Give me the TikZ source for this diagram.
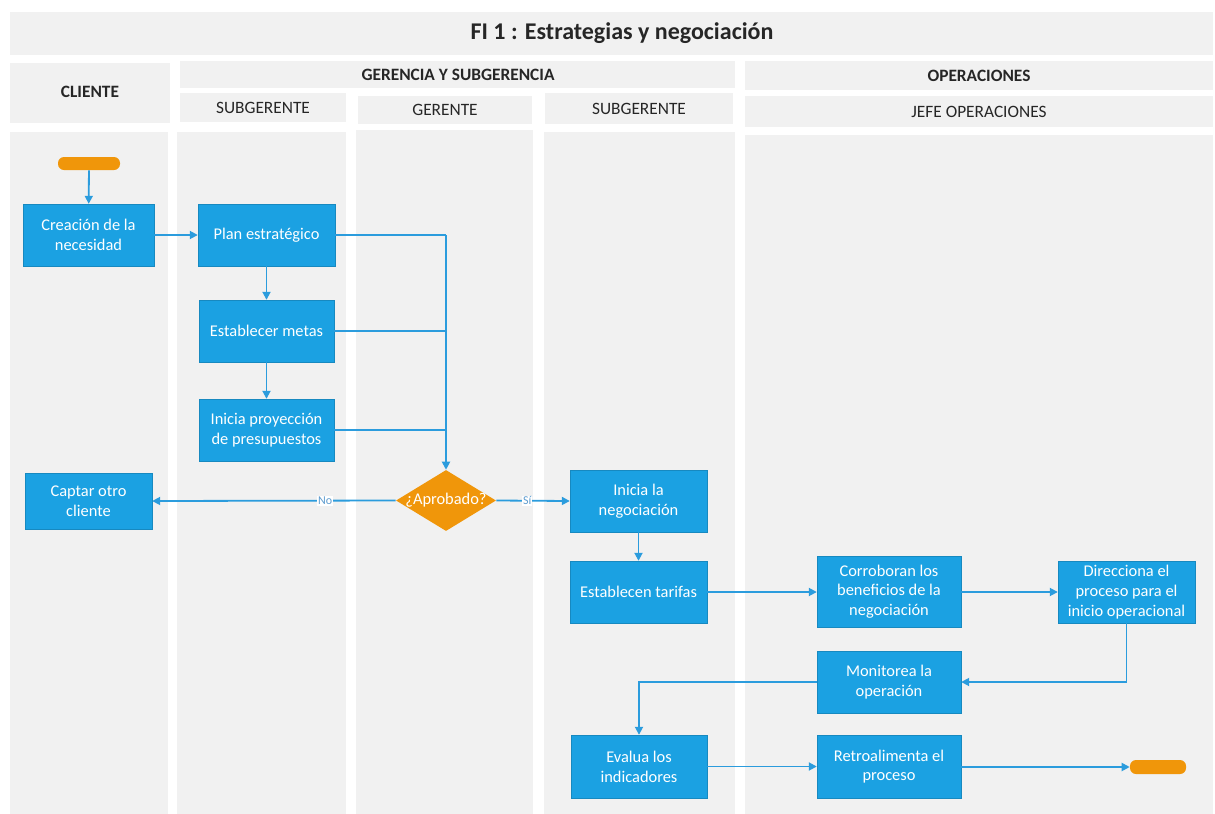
\documentclass[tikz,border=0pt]{standalone}
\usepackage{fontspec}
\setmainfont{Carlito}
\usetikzlibrary{arrows.meta,shapes.geometric}

\definecolor{lanegray}{HTML}{F1F1F1}
\definecolor{procblue}{HTML}{1BA1E2}
\definecolor{flowblue}{HTML}{2B9CDD}
\definecolor{termorange}{HTML}{F0960A}
\definecolor{lblblue}{HTML}{5E9CCF}

\tikzset{
  lane/.style={fill=lanegray, draw=none},
  headtxt/.style={font=\fontsize{13}{15}\selectfont, text=black!85, inner sep=0pt},
  headbold/.style={headtxt, font=\fontsize{13}{15}\selectfont\bfseries},
  proc/.style={rectangle, fill=procblue, draw=procblue!85!black, line width=0.3pt,
    text=white, align=center, inner sep=0pt,
    font=\fontsize{12.3}{14.8}\selectfont},
  term/.style={rectangle, rounded corners=4.5pt, fill=termorange, draw=none, inner sep=0pt},
  decision/.style={diamond, fill=termorange, draw=none, inner sep=0pt, aspect=1.65},
  flow/.style={draw=flowblue, line width=1.35pt, -{Triangle[length=6pt,width=6pt]}},
  link/.style={draw=flowblue, line width=1.35pt},
  edgelbl/.style={fill=white, text=lblblue, inner sep=0.8pt,
    font=\fontsize{9}{10}\selectfont}
}

\begin{document}
\begin{tikzpicture}[x=0.75pt, y=-0.75pt]
  % canvas
  \fill[white] (0,0) rectangle (1215,814);
  \useasboundingbox (0,0) rectangle (1215,814);

  % title band
  \fill[lane] (10,12) rectangle (1213,55);
  \node[headtxt, font=\fontsize{18}{20}\selectfont\bfseries] (title) at (622,33) {FI 1 : Estrategias y negociación};

  % header cells
  \fill[lane] (10,63) rectangle (170,123);
  \node[headbold] (hcli) at (90,92) {CLIENTE};
  \fill[lane] (180,61) rectangle (735,88);
  \node[headbold] (hger) at (458,75) {GERENCIA Y SUBGERENCIA};
  \fill[lane] (180,93) rectangle (346,122);
  \node[headtxt] (hsub1) at (263,108) {SUBGERENTE};
  \fill[lane] (358,96) rectangle (532,124);
  \node[headtxt] (hgte) at (445,110) {GERENTE};
  \fill[lane] (545,93) rectangle (733,124);
  \node[headtxt] (hsub2) at (639,109) {SUBGERENTE};
  \fill[lane] (745,61) rectangle (1213,90);
  \node[headbold] (hops) at (979,76) {OPERACIONES};
  \fill[lane] (745,96) rectangle (1213,127);
  \node[headtxt] (hjefe) at (979,112) {JEFE OPERACIONES};

  % swimlane bodies
  \fill[lane] (10,132) rectangle (168,814);
  \fill[lane] (177,132) rectangle (346,814);
  \fill[lane] (356,130) rectangle (533,814);
  \fill[lane] (544,132) rectangle (735,814);
  \fill[lane] (745,135) rectangle (1213,814);

  % terminators
  \node[term, minimum width=46.5pt, minimum height=9.75pt] (start) at (89,163.5) {};
  \node[term, minimum width=42pt, minimum height=10.5pt] (stop) at (1158,767) {};

  % process steps
  \node[proc, minimum width=98.25pt, minimum height=46.5pt] (crea) at (88.5,235) {Creación de la\\necesidad};
  \node[proc, minimum width=102.75pt, minimum height=46.5pt] (plan) at (266.5,235) {Plan estratégico};
  \node[proc, minimum width=101.25pt, minimum height=46.5pt] (metas) at (266.5,331) {Establecer metas};
  \node[proc, minimum width=101.25pt, minimum height=46.5pt] (proy) at (266.5,430) {Inicia proyección\\de presupuestos};
  \node[proc, minimum width=95.25pt, minimum height=42pt] (captar) at (88.5,501) {Captar otro\\cliente};
  \node[proc, minimum width=102.75pt, minimum height=46.5pt] (inic) at (638.5,501) {Inicia la\\negociación};
  \node[proc, minimum width=102.75pt, minimum height=46.5pt] (tarif) at (638.5,592) {Establecen tarifas};
  \node[proc, minimum width=108pt, minimum height=53.25pt] (corro) at (889,591.5) {Corroboran los\\beneficios de la\\negociación};
  \node[proc, minimum width=102.75pt, minimum height=46.5pt] (direc) at (1126.5,592) {Direcciona el\\proceso para el\\inicio operacional};
  \node[proc, minimum width=108pt, minimum height=46.5pt] (monit) at (889,682) {Monitorea la\\operación};
  \node[proc, minimum width=102pt, minimum height=47.25pt] (evalua) at (639,766.5) {Evalua los\\indicadores};
  \node[proc, minimum width=108pt, minimum height=47.25pt] (retro) at (889,766.5) {Retroalimenta el\\proceso};

  % decision
  \node[decision, minimum width=75pt, minimum height=45.75pt] (dec) at (446,500.5) {};
  \node[text=white, inner sep=0pt, font=\fontsize{12.3}{14}\selectfont] (dectxt) at (dec.center) {¿Aprobado?};

  % connectors
  \draw[flow] (start) -- (crea);
  \draw[flow] (crea) -- (plan);
  \draw[flow] (plan) -- (metas);
  \draw[flow] (metas) -- (proy);
  \coordinate (merge) at (446,235);
  \draw[link] (plan.east) -- (merge);
  \draw[link] (metas.east) -- (metas.east -| merge);
  \draw[link] (proy.east) -- (proy.east -| merge);
  \draw[flow] (merge) -- (dec.north);
  \draw[flow] (dec.west) -- node[edgelbl, pos=0.29] (lno) {No} (captar.east);
  \draw[flow] (dec.east) -- node[edgelbl, pos=0.42] (lsi) {Sí} (inic.west);
  \draw[flow] (inic) -- (tarif);
  \draw[flow] (tarif) -- (corro.west |- tarif);
  \draw[flow] (corro.east |- direc) -- (direc);
  \draw[flow] (direc.south) |- (monit.east);
  \draw[flow] (monit.west) -| (evalua.north);
  \draw[flow] (evalua) -- (retro.west |- evalua);
  \draw[flow] (retro.east |- stop) -- (stop);
\end{tikzpicture}
\end{document}
